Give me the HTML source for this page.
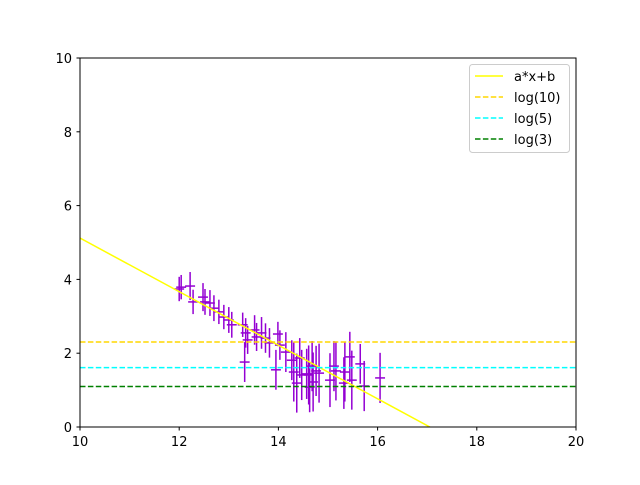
<!DOCTYPE html>
<html><head><meta charset="utf-8"><style>
body{margin:0;background:#fff;font-family:"Liberation Sans",sans-serif}
svg text{font-family:"DejaVu Sans","Liberation Sans",sans-serif;font-size:13px}
</style></head><body>
<svg id="chart" width="640" height="480" viewBox="0 0 640 480" xmlns="http://www.w3.org/2000/svg">
<rect width="640" height="480" fill="#fff"/>
<g id="plot"></g>
<rect x="80" y="58" width="496" height="369" fill="none" stroke="#000" stroke-width="1"/>
<g id="axes"></g>
<g>
<rect x="469.5" y="64.5" width="100" height="88" fill="#fff" stroke="#ccc" rx="3"/>
<line x1="475" y1="76" x2="503" y2="76" stroke="#ffff00" stroke-width="1.5"/><text x="514" y="81">a*x+b</text>
<line x1="475" y1="97" x2="503" y2="97" stroke="#ffd700" stroke-width="1.5" stroke-dasharray="5.5,2.4"/><text x="514" y="102">log(10)</text>
<line x1="475" y1="118" x2="503" y2="118" stroke="#00ffff" stroke-width="1.5" stroke-dasharray="5.5,2.4"/><text x="514" y="123">log(5)</text>
<line x1="475" y1="139" x2="503" y2="139" stroke="#008000" stroke-width="1.5" stroke-dasharray="5.5,2.4"/><text x="514" y="144">log(3)</text>
</g>
</svg>
<script>
const xs=[12.0,12.04,12.22,12.28,12.48,12.52,12.62,12.7,12.8,12.9,13.0,13.06,13.28,13.34,13.38,13.32,13.52,13.56,13.66,13.74,13.82,13.95,13.99,14.03,14.15,14.27,14.31,14.37,14.43,14.47,14.57,14.61,14.63,14.68,14.7,14.76,14.82,15.04,15.12,15.16,15.32,15.34,15.44,15.48,15.65,15.73,16.05];
const ys=[3.74,3.79,3.82,3.39,3.52,3.39,3.36,3.22,3.12,2.98,2.9,2.77,2.77,2.55,2.36,1.76,2.63,2.44,2.55,2.41,2.28,1.55,2.52,2.22,2.03,1.81,1.49,1.19,1.87,1.41,1.44,1.41,1.08,1.65,1.22,1.52,1.46,1.27,1.65,1.52,1.19,1.49,1.9,1.27,1.71,1.11,1.33];
const yerr=[0.33,0.33,0.38,0.33,0.38,0.35,0.35,0.35,0.33,0.33,0.35,0.35,0.33,0.4,0.38,0.54,0.4,0.38,0.43,0.4,0.4,0.54,0.33,0.4,0.54,0.54,0.8,0.8,0.54,0.68,0.68,0.8,0.68,0.68,0.8,0.68,0.8,0.73,0.68,0.8,0.7,0.8,0.68,0.8,0.54,0.68,0.68];
const xerr=0.1;
const slope=-0.726, intercept=12.38;
const hlines=[{v:Math.log(10),c:"#ffd700",n:"log10-line"},{v:Math.log(5),c:"#00ffff",n:"log5-line"},{v:Math.log(3),c:"#008000",n:"log3-line"}];
const xticks=[10,12,14,16,18,20], yticks=[0,2,4,6,8,10];
const X=v=>80+(v-10)*49.6, Y=v=>427-v*36.9;
const NS="http://www.w3.org/2000/svg";
const plot=document.getElementById('plot'), axes=document.getElementById('axes');
function mk(p,tag,a){const e=document.createElementNS(NS,tag);for(const k in a)e.setAttribute(k,a[k]);p.appendChild(e);return e;}
const defs=mk(plot,'clipPath',{id:'clip'});mk(defs,'rect',{x:80,y:58,width:496,height:369});
const g=mk(plot,'g',{'clip-path':'url(#clip)'});
xs.forEach((x,i)=>{
 const eb=mk(g,'g',{stroke:'#9400d3','stroke-width':1.5});
 
 
 mk(eb,'line',{x1:X(x),x2:X(x),y1:Y(ys[i]-yerr[i]),y2:Y(ys[i]+yerr[i])});
 mk(eb,'line',{x1:X(x-xerr),x2:X(x+xerr),y1:Y(ys[i]),y2:Y(ys[i])});
});
const fl=mk(g,'line',{x1:X(10),y1:Y(slope*10+intercept),x2:X(20),y2:Y(slope*20+intercept),stroke:'#ffff00','stroke-width':1.5});


hlines.forEach(h=>{
 const l=mk(g,'line',{x1:80,x2:576,y1:Y(h.v),y2:Y(h.v),stroke:h.c,'stroke-width':1.5,'stroke-dasharray':'5.5,2.4'});
 
 
});
xticks.forEach(t=>{
 mk(axes,'line',{x1:X(t),x2:X(t),y1:427,y2:430.5,stroke:'#000'});
 const tx=mk(axes,'text',{x:X(t),y:446,'text-anchor':'middle'});tx.textContent=t;
 
 
});
yticks.forEach(t=>{
 mk(axes,'line',{x1:76.5,x2:80,y1:Y(t),y2:Y(t),stroke:'#000'});
 const tx=mk(axes,'text',{x:72,y:Y(t)+5,'text-anchor':'end'});tx.textContent=t;
 
 
});
</script>
</body></html>
